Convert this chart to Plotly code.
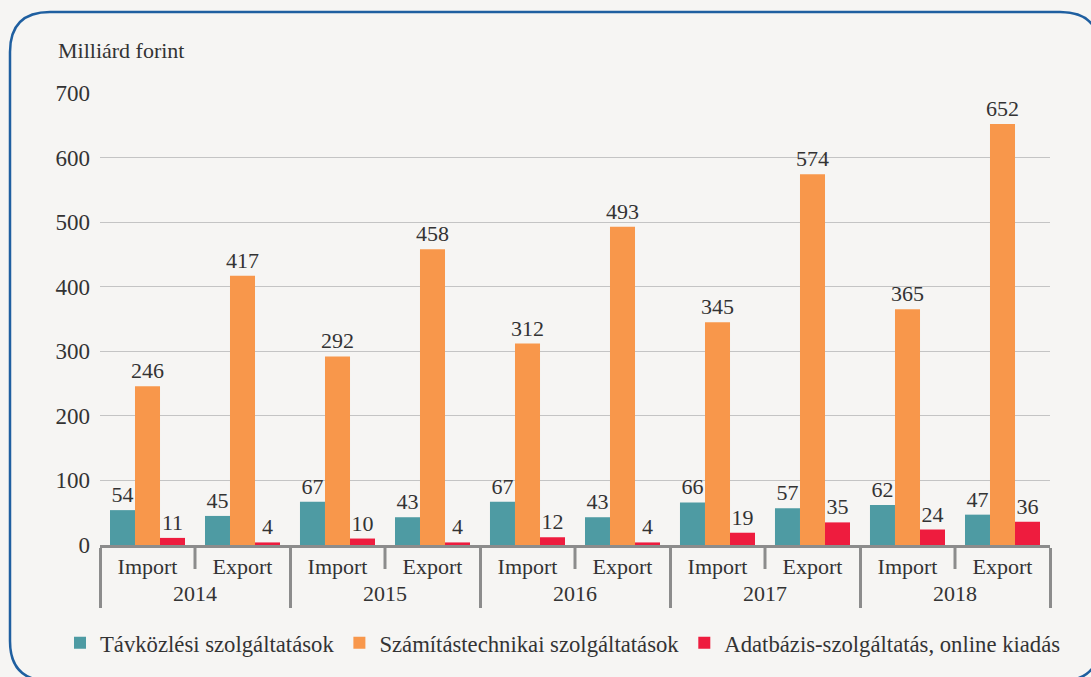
import plotly.graph_objects as go

years = ["2014", "2015", "2016", "2017", "2018"]
flows = ["Import", "Export"]
series_names = ["Távközlési szolgáltatások", "Számítástechnikai szolgáltatások",
                "Adatbázis-szolgáltatás, online kiadás"]
telecom = [54, 45, 67, 43, 67, 43, 66, 57, 62, 47]
computer = [246, 417, 292, 458, 312, 493, 345, 574, 365, 652]
database = [11, 4, 10, 4, 12, 4, 19, 35, 24, 36]
y_ticks = [0, 100, 200, 300, 400, 500, 600, 700]
unit_label = "Milliárd forint"

colors = ["#4e9ba3", "#f8974b", "#ee1c3e"]
FONT = "'Liberation Serif', 'DejaVu Serif', serif"
TXT = "#333333"
FS = 22
W, H = 1091, 677
L, R, T, B = 100, 41, 93, 132
PW, PH = W - L - R, H - T - B

def px(x):
    return (x - L) / PW

def py(y):
    return (H - B - y) / PH

xcat = [[y for y in years for _ in flows], [f for _ in years for f in flows]]

fig = go.Figure()
for name, vals, c in zip(series_names, [telecom, computer, database], colors):
    fig.add_trace(go.Bar(
        x=xcat, y=vals, name=name, marker_color=c, marker_line_width=0,
        text=vals, textposition="outside", cliponaxis=False, constraintext="none",
        textfont=dict(family=FONT, size=FS, color=TXT),
    ))

shapes = []
n = len(years) * len(flows)
for i in range(len(years)):
    xb = (2 * i + 1) / n
    shapes.append(dict(type="line", xref="paper", yref="paper", x0=xb, x1=xb,
                       y0=0, y1=py(569), line=dict(color="#8c8c8c", width=3)))

x0, x1, y0, y1, r = 10, 1100, 12, 681, 40
pts = [
    ("M", (x0 + r, y0)), ("L", (x1 - r, y0)),
    ("Q", (x1, y0), (x1, y0 + r)), ("L", (x1, y1 - r)),
    ("Q", (x1, y1), (x1 - r, y1)), ("L", (x0 + r, y1)),
    ("Q", (x0, y1), (x0, y1 - r)), ("L", (x0, y0 + r)),
    ("Q", (x0, y0), (x0 + r, y0)),
]
path = ""
for cmd, *ps in pts:
    path += cmd + " " + " ".join(f"{px(a):.5f},{py(b):.5f}" for a, b in ps) + " "
path += "Z"
shapes.append(dict(type="path", xref="paper", yref="paper", path=path,
                   line=dict(color="#1f5fa0", width=2.5), layer="above"))

fig.update_layout(
    width=W, height=H,
    margin=dict(l=L, r=R, t=T, b=B, autoexpand=False),
    paper_bgcolor="#f6f5f3", plot_bgcolor="#f6f5f3",
    font=dict(family=FONT, size=FS, color=TXT),
    barmode="group", bargap=0.21, bargroupgap=0,
    showlegend=True,
    legend=dict(orientation="h", x=px(60), y=py(643), xanchor="left", yanchor="middle",
                font=dict(family=FONT, size=22.7, color=TXT),
                itemwidth=30, tracegroupgap=0),
    shapes=shapes,
    annotations=[dict(text=unit_label, xref="paper", yref="paper", x=px(56), y=py(51),
                      xanchor="left", yanchor="middle", showarrow=False,
                      font=dict(family=FONT, size=FS, color=TXT))],
)
fig.update_yaxes(range=[0, 700], tickvals=y_ticks, showgrid=True, gridcolor="#c4c4c4",
                 gridwidth=1, zeroline=False, showline=False, ticks="",
                 ticklabelstandoff=9, automargin=False,
                 tickfont=dict(family=FONT, size=23, color=TXT))
fig.update_xaxes(type="multicategory", showline=True, linecolor="#8c8c8c", linewidth=3,
                 showdividers=True, dividercolor="#8c8c8c", dividerwidth=3,
                 ticks="", automargin=False,
                 tickfont=dict(family=FONT, size=FS, color=TXT))

fig.write_html("out.html", config={"displayModeBar": False},
               post_script="document.body.style.margin='0';document.body.style.background='#f6f5f3';")
